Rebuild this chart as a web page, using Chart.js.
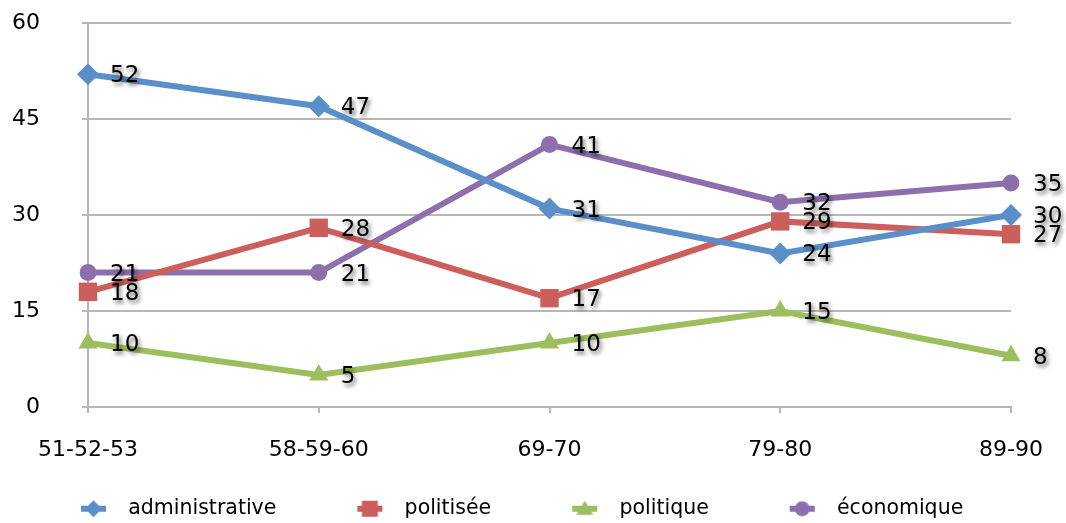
<!DOCTYPE html>
<html>
<head>
<meta charset="utf-8">
<script src="https://cdn.jsdelivr.net/npm/chart.js@4/dist/chart.umd.min.js"></script>
<style>
  html, body { margin: 0; padding: 0; background: #fff; }
</style>
</head>
<body>
<canvas id="c" width="1066" height="523"></canvas>
<script>
const categories = ['51-52-53', '58-59-60', '69-70', '79-80', '89-90'];
const seriesNames = ['administrative', 'politisée', 'politique', 'économique'];
const administrative = [52, 47, 31, 24, 30];
const politisee = [18, 28, 17, 29, 27];
const politique = [10, 5, 10, 15, 8];
const economique = [21, 21, 41, 32, 35];
const yTicks = [0, 15, 30, 45, 60];

const FONT = '"DejaVu Sans", sans-serif';
const colors = ['#5B8FC9', '#CC5F5B', '#9DBE5E', '#8D6FAE'];
const styles = ['rectRot', 'rect', 'triangle', 'circle'];
const radii = [11, 13, 11, 8.5];

// legend swatch: blank lead-in, short line with marker, small gap
function legendImage(color, style) {
  const L = 73, R = 12;
  const cv = document.createElement('canvas');
  cv.width = L + 25 + R; cv.height = 22;
  const ctx = cv.getContext('2d');
  ctx.strokeStyle = color; ctx.fillStyle = color; ctx.lineWidth = 6;
  ctx.beginPath(); ctx.moveTo(L, 11); ctx.lineTo(L + 25, 11); ctx.stroke();
  const cx = L + 12.5, cy = 11;
  ctx.beginPath();
  if (style === 'rectRot') {
    ctx.moveTo(cx, cy - 8.5); ctx.lineTo(cx + 8.5, cy); ctx.lineTo(cx, cy + 8.5); ctx.lineTo(cx - 8.5, cy);
  } else if (style === 'rect') {
    ctx.rect(cx - 8, cy - 8, 16, 16);
  } else if (style === 'triangle') {
    ctx.moveTo(cx, cy - 8); ctx.lineTo(cx + 8.5, cy + 6); ctx.lineTo(cx - 8.5, cy + 6);
  } else {
    ctx.arc(cx, cy, 7.5, 0, Math.PI * 2);
  }
  ctx.closePath(); ctx.fill();
  return cv;
}

const dataLabelPlugin = {
  id: 'dataLabels',
  afterDatasetsDraw(chart) {
    const ctx = chart.ctx;
    ctx.save();
    ctx.font = '23px ' + FONT;
    ctx.fillStyle = '#000';
    ctx.textAlign = 'left';
    ctx.textBaseline = 'middle';
    ctx.shadowColor = 'rgba(0,0,0,0.6)';
    ctx.shadowBlur = 4;
    ctx.shadowOffsetX = 2;
    ctx.shadowOffsetY = 3;
    chart.data.datasets.forEach((ds, i) => {
      const meta = chart.getDatasetMeta(i);
      meta.data.forEach((pt, j) => {
        ctx.fillText(String(ds.data[j]), pt.x + 22, pt.y + 2);
      });
    });
    ctx.restore();
  }
};

const seriesData = [administrative, politisee, politique, economique];
const datasets = seriesNames.map((name, i) => ({
  label: name,
  data: seriesData[i],
  borderColor: colors[i],
  backgroundColor: colors[i],
  borderWidth: 6,
  pointStyle: styles[i],
  pointRadius: radii[i],
  pointHoverRadius: radii[i],
  pointBorderWidth: 0,
  tension: 0,
  fill: false
}));

new Chart(document.getElementById('c'), {
  type: 'line',
  data: { labels: categories, datasets },
  plugins: [dataLabelPlugin],
  options: {
    responsive: false,
    animation: false,
    events: [],
    layout: { padding: { left: 0, right: 55, top: 23, bottom: -6 } },
    plugins: {
      tooltip: { enabled: false },
      legend: {
        position: 'bottom',
        align: 'start',
        labels: {
          usePointStyle: true,
          pointStyleWidth: 110,
          boxHeight: 20,
          padding: 8,
          color: '#000',
          font: { family: FONT, size: 20.5 },
          generateLabels(chart) {
            return chart.data.datasets.map((ds, i) => ({
              text: ds.label,
              pointStyle: legendImage(colors[i], styles[i]),
              fillStyle: colors[i],
              strokeStyle: colors[i],
              lineWidth: 0,
              hidden: false,
              datasetIndex: i,
              fontColor: '#000'
            }));
          }
        }
      }
    },
    scales: {
      x: {
        offset: false,
        grid: { display: true, drawOnChartArea: false, drawTicks: true, tickLength: 6, color: '#b7b7b7', lineWidth: 2 },
        border: { display: true, color: '#b7b7b7', width: 2 },
        ticks: { color: '#000', font: { family: FONT, size: 22 }, padding: 24, maxRotation: 0, autoSkip: false },
        afterFit(scale) { scale.height = 83.5; scale.paddingLeft = 0; scale.paddingRight = 0; }
      },
      y: {
        min: 0, max: 60,
        afterBuildTicks(scale) { scale.ticks = yTicks.map(v => ({ value: v })); },
        grid: { color: '#b7b7b7', lineWidth: 2, tickLength: 6, drawTicks: true },
        border: { display: true, color: '#b7b7b7', width: 2 },
        ticks: { color: '#000', font: { family: FONT, size: 22 }, padding: 42 },
        afterFit(scale) { scale.width = 88; scale.paddingTop = 12; scale.paddingBottom = 12; }
      }
    }
  }
});
</script>
</body>
</html>
